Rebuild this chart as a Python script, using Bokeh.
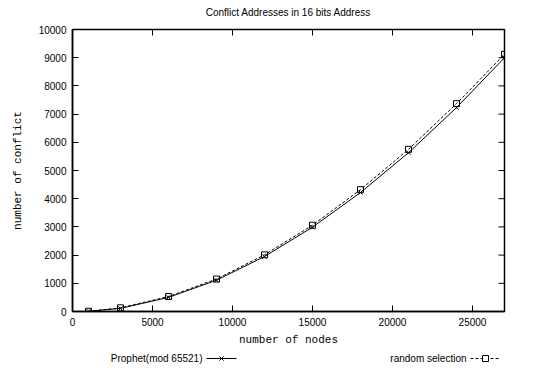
import math
from bokeh.plotting import figure
from bokeh.models import Range1d, FixedTicker
from bokeh.embed import file_html
from bokeh.resources import INLINE

nodes = [1000, 3000, 6000, 9000, 12000, 15000, 18000, 21000, 24000, 27000]
prophet = [8, 110, 500, 1110, 1950, 2990, 4220, 5630, 7230, 9000]
random_sel = [8, 130, 530, 1150, 2010, 3060, 4320, 5750, 7370, 9120]
x_ticks = [0, 5000, 10000, 15000, 20000, 25000]
y_ticks = [0, 1000, 2000, 3000, 4000, 5000, 6000, 7000, 8000, 9000, 10000]
series_names = ["Prophet(mod 65521)", "random selection"]
title_text = "Conflict Addresses in 16 bits Address"
X_MAX = 27000
Y_MAX = 10000

SANS = "Liberation Sans"
MONO = "Liberation Mono"

# title strip on top
tt = figure(width=528, height=20, output_backend="svg", toolbar_location=None,
            x_range=Range1d(0, 528), y_range=Range1d(0, 20), min_border=0)
tt.axis.visible = False
tt.grid.visible = False
tt.outline_line_color = None
tt.text([288], [8], text=[title_text], text_align="center", text_baseline="middle",
        text_font_size="10px", text_font={"value": SANS}, text_color="black")

p = figure(width=528, height=328, output_backend="svg", toolbar_location=None,
           x_range=Range1d(0, X_MAX), y_range=Range1d(0, Y_MAX),
           min_border_left=72, min_border_right=24, min_border_top=9,
           min_border_bottom=35, x_axis_label="number of nodes",
           y_axis_label="number of conflict")
p.grid.visible = False
p.outline_line_color = "black"
p.outline_line_width = 1.5

for ax in (p.xaxis[0], p.yaxis[0]):
    ax.major_tick_in = 6
    ax.major_tick_out = 0
    ax.minor_tick_in = 0
    ax.minor_tick_out = 0
    ax.axis_line_width = 1.5
    ax.major_label_text_font = SANS
    ax.major_label_text_font_size = "10px"
    ax.major_label_text_color = "black"
    ax.axis_label_text_font = MONO
    ax.axis_label_text_font_size = "11px"
    ax.axis_label_text_font_style = "normal"
    ax.axis_label_text_color = "black"
p.xaxis[0].ticker = FixedTicker(ticks=x_ticks)
p.yaxis[0].ticker = FixedTicker(ticks=y_ticks)
p.xaxis[0].major_label_standoff = 6
p.yaxis[0].major_label_standoff = 6
p.xaxis[0].axis_label_standoff = 5
p.yaxis[0].axis_label_standoff = 12

# mirrored inward ticks on the top and right edges (gnuplot style)
p.ray(x=x_ticks, y=[Y_MAX] * len(x_ticks), length=6, length_units="screen",
      angle=-math.pi / 2, line_color="black", line_width=1)
p.ray(x=[X_MAX] * len(y_ticks), y=y_ticks, length=6, length_units="screen",
      angle=math.pi, line_color="black", line_width=1)

p.line(nodes, prophet, line_color="black", line_width=1)
p.scatter(nodes, prophet, marker="x", size=6, line_color="black", line_width=1)
p.line(nodes, random_sel, line_color="black", line_width=1, line_dash="3 2")
p.scatter(nodes, random_sel, marker="square", size=6, line_color="black",
          fill_color=None, line_width=1)

# legend strip below, in gnuplot style (text then sample)
lg = figure(width=528, height=20, output_backend="svg", toolbar_location=None,
            x_range=Range1d(0, 528), y_range=Range1d(0, 1), min_border=0)
lg.axis.visible = False
lg.grid.visible = False
lg.outline_line_color = None
lg.text([202, 466], [0.5, 0.5], text=series_names, text_align="right",
        text_baseline="middle", text_font_size="10px", text_font={"value": SANS},
        text_color="black")
lg.line([206, 236], [0.5, 0.5], line_color="black", line_width=1)
lg.scatter([221], [0.5], marker="x", size=6, line_color="black")
lg.line([470, 500], [0.5, 0.5], line_color="black", line_width=1, line_dash="3 2")
lg.scatter([485], [0.5], marker="square", size=6, line_color="black", fill_color="white")

open("out.html", "w").write(file_html([tt, p, lg], INLINE))
